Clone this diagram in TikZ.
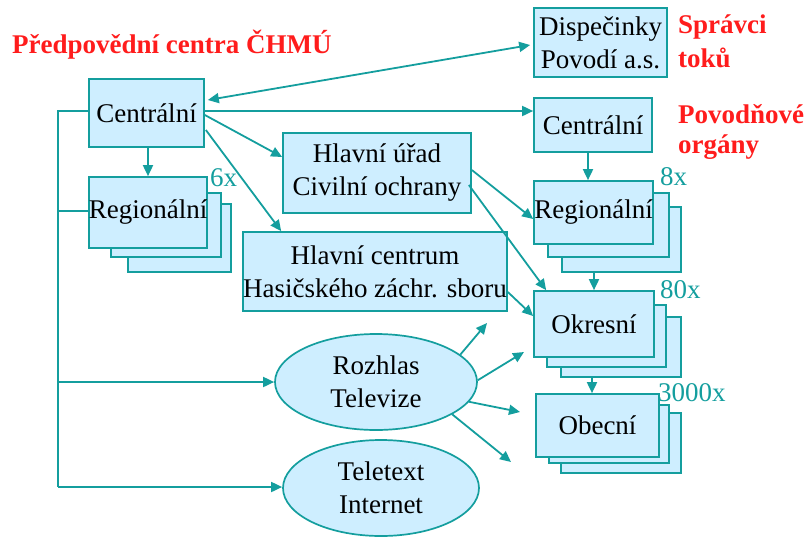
\documentclass[tikz,border=0pt]{standalone}
\usepackage{fontspec}
\setmainfont{Liberation Serif}
\usetikzlibrary{arrows.meta,shapes.geometric,calc}
\definecolor{teal1}{RGB}{20,158,158}
\definecolor{boxfill}{RGB}{206,238,255}
\definecolor{redlab}{RGB}{255,28,28}
\begin{document}
\begin{tikzpicture}[x=1pt,y=-1pt,
  bx/.style={draw=teal1,fill=boxfill,line width=1.7pt,rectangle,inner sep=0pt,align=center,font=\fontsize{27}{33}\selectfont},
  el/.style={draw=teal1,fill=boxfill,line width=1.7pt,ellipse,inner sep=0pt,align=center,font=\fontsize{27}{33}\selectfont},
  ln/.style={draw=teal1,line width=1.8pt},
  arr/.style={ln,-{Triangle[length=11pt,width=10pt]}},
  darr/.style={ln,{Triangle[length=11pt,width=10pt]}-{Triangle[length=11pt,width=10pt]}},
  redt/.style={text=redlab,font=\bfseries\fontsize{27}{30}\selectfont,anchor=base west,inner sep=0pt},
  cnt/.style={text=teal1,font=\fontsize{27}{30}\selectfont,anchor=base west,inner sep=0pt}]
\useasboundingbox (0,0) rectangle (806,539);

% red labels
\node[redt] (t0) at (12,53) {Předpovědní centra ČHMÚ};
\node[redt] (s1) at (678,33) {Správci};
\node[redt] (s2) at (678,67) {toků};
\node[redt] (p1) at (678,123) {Povodňové};
\node[redt] (p2) at (678,153) {orgány};

% single boxes
\node[bx,minimum width=115,minimum height=68] (cl) at (146.5,113) {Centrální};
\node[bx,minimum width=133,minimum height=69] (disp) at (600.5,42.5) {Dispečinky\\Povodí a.s.};
\node[bx,minimum width=118,minimum height=54] (cr) at (593,125) {Centrální};
\node[bx,minimum width=188,minimum height=80] (hu) at (377,173) {Hlavní úřad\\Civilní ochrany};
\node[bx,minimum width=254,minimum height=79] (hc) at (375,271.5) {Hlavní centrum\\Hasičského záchr. sboru};

% left regional stack
\node[bx,minimum width=103,minimum height=68] (rl3) at (179.5,238) {};
\node[bx,minimum width=110,minimum height=64] (rl2) at (166,225) {};
\node[bx,minimum width=110,minimum height=71] (rl1) at (148,212.5) {Regionální};
\node[cnt] (n6) at (210,186) {6x};

% right regional stack
\node[bx,minimum width=119,minimum height=65] (rr3) at (621.5,239.5) {};
\node[bx,minimum width=121,minimum height=64] (rr2) at (608.5,225) {};
\node[bx,minimum width=119,minimum height=63] (rr1) at (593.5,212.5) {Regionální};
\node[cnt] (n8) at (660,185) {8x};

% okresni stack
\node[bx,minimum width=120,minimum height=60] (ok3) at (621,347) {};
\node[bx,minimum width=119,minimum height=62] (ok2) at (606.5,336) {};
\node[bx,minimum width=120,minimum height=66] (ok1) at (594,324) {Okresní};
\node[cnt] (n80) at (660,298) {80x};

% obecni stack
\node[bx,minimum width=120,minimum height=60] (ob3) at (621,443) {};
\node[bx,minimum width=120,minimum height=58] (ob2) at (609,434) {};
\node[bx,minimum width=123,minimum height=63] (ob1) at (597.5,425.5) {Obecní};
\node[cnt] (n3000) at (658,401) {3000x};

% ellipses
\node[el,minimum width=202,minimum height=96] (rz) at (376,382) {Rozhlas\\Televize};
\node[el,minimum width=196,minimum height=96] (tt) at (381,488) {Teletext\\Internet};

% trunk on the left
\coordinate (t1) at (58,111);
\coordinate (t2) at (58,211);
\coordinate (t3) at (58,382);
\coordinate (t4) at (58,487);
\draw[ln] ($(cl.west)+(0,-2)$) -- (t1) -- (t4);
\draw[ln] (t2) -- (rl1.west |- t2);
\draw[arr] (t3) -- (rz.west |- t3);
\draw[arr] (t4) -- (tt.west |- t4);

% from central
\draw[arr] ($(cl.east)+(0,-2)$) -- ($(cr.west)+(0,-14)$);
\draw[darr] ($(cl.east)+(3,-13)$) -- ($(disp.west)+(-3,2.5)$);
\draw[arr] ($(cl.east)+(0,2)$) -- ($(hu.west)+(0,-16)$);
\draw[arr] ($(cl.east)+(1,17)$) -- ($(hc.north west)+(39,0)$);
\draw[arr] (rl1.north |- cl.south) -- (rl1.north);

% right chain
\draw[arr] ($(cr.south)+(-5,0)$) -- ($(rr1.north)+(-5.5,0)$);
\draw[arr] (ok1.north |- rr3.south) -- (ok1.north);
\draw[arr] ($(ob1.north)+(-5.5,-17)$) -- ($(ob1.north)+(-5.5,0)$);

% from civil protection and fire brigade
\draw[arr] ($(hu.east)+(0,-3)$) -- ($(rr1.west)+(0,6.5)$);
\draw[arr] ($(hu.east)+(-3,12)$) -- ($(ok1.north west)+(13,0)$);
\draw[arr] ($(hc.east)+(0,20.5)$) -- ($(ok1.west)+(0,-8)$);

% broadcast arrows
\coordinate (e1) at (487,323);
\coordinate (e2) at (524,352);
\coordinate (e3) at (520,412);
\coordinate (e4) at (511,462);
\draw[arr] (rz.18) -- (e1);
\draw[arr] (rz.1) -- (e2);
\draw[arr] (rz.-12) -- (e3);
\draw[arr] (rz.-23) -- (e4);
\end{tikzpicture}
\end{document}
